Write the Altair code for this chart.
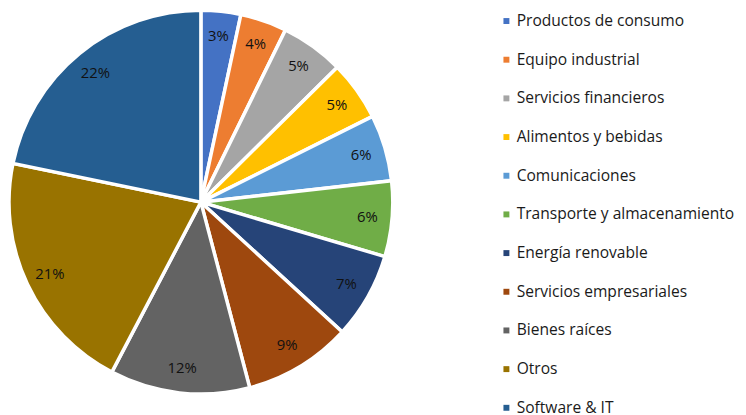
import altair as alt
import pandas as pd

categories = [
    "Productos de consumo", "Equipo industrial", "Servicios financieros",
    "Alimentos y bebidas", "Comunicaciones", "Transporte y almacenamiento",
    "Energía renovable", "Servicios empresariales", "Bienes raíces",
    "Otros", "Software & IT",
]
values = [3.35, 3.93, 5.33, 5.05, 5.6, 6.37, 7.26, 9.1, 11.8, 20.6, 21.8]
colors = ["#4472C4", "#ED7D31", "#A5A5A5", "#FFC000", "#5B9BD5", "#70AD47",
          "#264478", "#9E480E", "#636363", "#997300", "#255E91"]

df = pd.DataFrame({"categoria": categories, "valor": values,
                   "orden": list(range(len(categories)))})

base = alt.Chart(df).transform_joinaggregate(
    total="sum(valor)"
).transform_calculate(
    pct="datum.valor / datum.total"
).encode(
    theta=alt.Theta("valor:Q", stack=True),
    order=alt.Order("orden:Q", sort="ascending"),
    x=alt.value(195),
    y=alt.value(194),
)

arcs = base.mark_arc(outerRadius=194, stroke="white", strokeWidth=3.5).encode(
    color=alt.Color(
        "categoria:N",
        scale=alt.Scale(domain=categories, range=colors),
        sort=categories,
        legend=alt.Legend(
            title=None, orient="none", legendX=496, legendY=3, offset=0,
            symbolType="square", symbolSize=36, symbolStrokeWidth=0,
            labelFont="Open Sans", labelFontSize=15.75, labelColor="#1a1a1a",
            rowPadding=22.1, padding=0, labelOffset=2.5, labelLimit=300,
        ),
    )
)

labels = base.mark_text(radius=169, font="Open Sans", fontSize=15, color="#111111").encode(
    text=alt.Text("pct:Q", format=".0%")
)

chart = alt.layer(arcs, labels).properties(
    width=738, height=420, padding=0, autosize="none"
).configure_view(stroke=None)

chart.save("out.html", embed_options={"renderer": "svg", "actions": False})
